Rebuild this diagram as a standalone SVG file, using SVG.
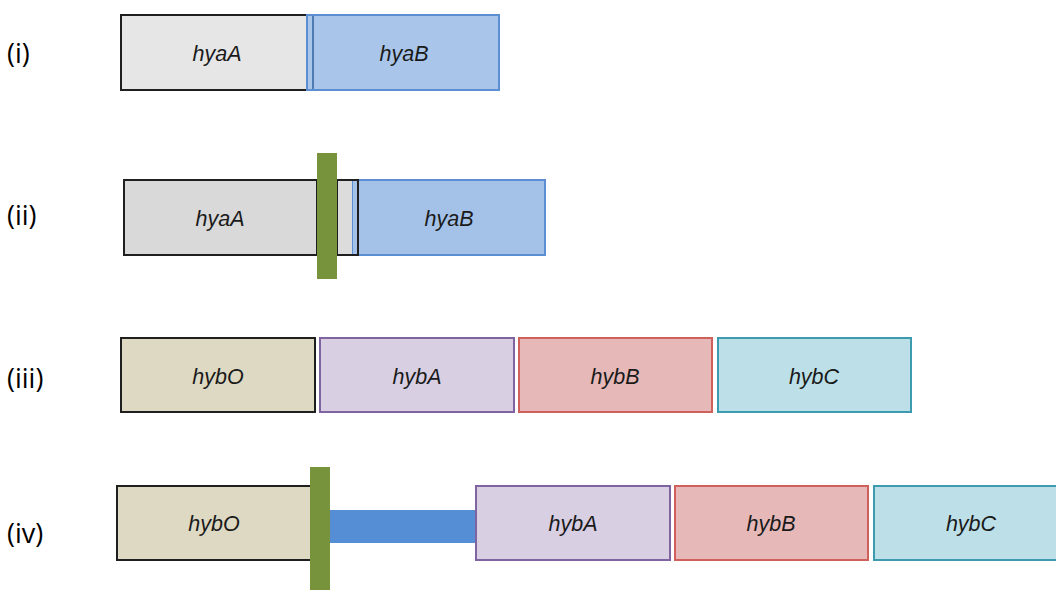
<svg xmlns="http://www.w3.org/2000/svg" width="1056" height="590" viewBox="0 0 1056 590">
<style>
.lbl{font-family:"Open Sans","Noto Sans",sans-serif;font-size:27px;fill:#000}
.g{font-family:"Liberation Sans",Arial,sans-serif;font-style:italic;font-size:21.5px;fill:#1a1a1a;text-anchor:middle;dominant-baseline:central}
.blk{stroke:#1f1f1f;stroke-width:2}
.blu{fill:#a9c6ea;stroke:#5b8fd1;stroke-width:2}
.grn{fill:#77933c}
.tan{fill:#ddd9c3;stroke:#1f1f1f;stroke-width:2}
.pur{fill:#d8cfe3;stroke:#8064a2;stroke-width:2}
.red{fill:#e6b9b8;stroke:#d0605c;stroke-width:2}
.cyn{fill:#bde0e8;stroke:#3d9bb0;stroke-width:2}
</style>
<g id="labels">
<text class="lbl" x="7" y="63">(i)</text>
<text class="lbl" x="7" y="225">(ii)</text>
<text class="lbl" x="7" y="388">(iii)</text>
<text class="lbl" x="7" y="543">(iv)</text>
</g>
<g id="row1">
<g id="r1-hyaA"><rect class="blk" x="121" y="15" width="186" height="75" fill="#e6e6e6"/><text class="g" x="217" y="54">hyaA</text></g>
<g id="r1-hyaB"><rect class="blu" x="307" y="15" width="192" height="75"/><line x1="313" y1="16" x2="313" y2="89" stroke="#4f7cb3" stroke-width="2"/><text class="g" x="404" y="54">hyaB</text></g>
</g>
<g id="row2">
<g id="r2-hyaA"><rect class="blk" x="124" y="180" width="193" height="75" fill="#d9d9d9"/><text class="g" x="220" y="219">hyaA</text></g>
<g id="r2-hyaB"><rect x="352" y="180" width="193" height="75" fill="#a4c2e8" stroke="#5b8fd1" stroke-width="2"/><text class="g" x="449" y="219">hyaB</text></g>
<g id="r2-small"><rect x="337" y="180" width="15" height="75" fill="#dcdcdc"/><rect class="blk" x="337" y="180" width="21" height="75" fill="none"/></g>
<g id="r2-bar"><rect class="grn" x="317" y="153" width="20" height="126"/></g>
</g>
<g id="row3">
<g id="r3-hybO"><rect class="tan" x="121" y="338" width="194" height="74"/><text class="g" x="218" y="377">hybO</text></g>
<g id="r3-hybA"><rect class="pur" x="320" y="338" width="194" height="74"/><text class="g" x="417" y="377">hybA</text></g>
<g id="r3-hybB"><rect class="red" x="519" y="338" width="193" height="74"/><text class="g" x="615" y="377">hybB</text></g>
<g id="r3-hybC"><rect class="cyn" x="718" y="338" width="193" height="74"/><text class="g" x="814" y="377">hybC</text></g>
</g>
<g id="row4">
<g id="r4-hybO"><rect class="tan" x="117" y="486" width="194" height="74"/><text class="g" x="214" y="524">hybO</text></g>
<g id="r4-bar"><rect class="grn" x="310" y="467" width="20" height="123"/></g>
<g id="r4-linker"><rect x="330" y="510" width="146" height="33" fill="#558ed5"/></g>
<g id="r4-hybA"><rect class="pur" x="476" y="486" width="194" height="74"/><text class="g" x="573" y="524">hybA</text></g>
<g id="r4-hybB"><rect class="red" x="675" y="486" width="193" height="74"/><text class="g" x="771" y="524">hybB</text></g>
<g id="r4-hybC"><rect class="cyn" x="874" y="486" width="194" height="74"/><text class="g" x="971" y="524">hybC</text></g>
</g>
<g id="connectors"/>
</svg>
